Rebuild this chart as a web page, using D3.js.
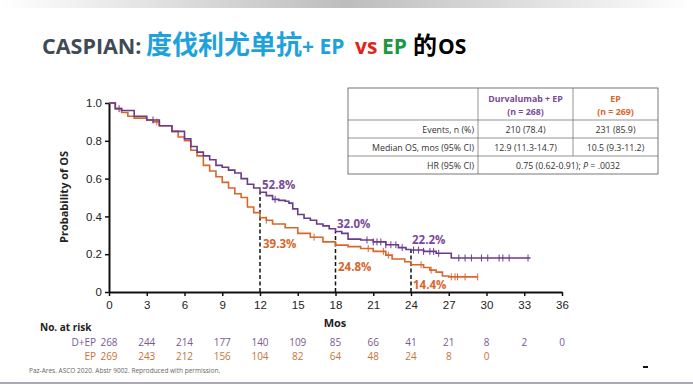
<!DOCTYPE html>
<html>
<head>
<meta charset="utf-8">
<script src="https://cdn.jsdelivr.net/npm/d3@7"></script>
<style>
  body { margin: 0; background: #fff; }
  svg { display: block; font-family: "Open Sans", "Noto Sans", sans-serif; }
</style>
</head>
<body>
<div id="chart"></div>
<script>
// KM curve points [month, survival]
const dEpCurve = [
  [0, 1.0], [0.5, 0.97], [1, 0.96], [2, 0.93], [3, 0.91], [4, 0.88], [5, 0.85],
  [6, 0.81], [6.5, 0.77], [7, 0.74], [7.5, 0.72], [8, 0.70], [8.5, 0.67], [9, 0.66],
  [9.5, 0.645], [10, 0.63], [10.5, 0.60], [11, 0.57], [11.5, 0.55], [12, 0.528],
  [12.5, 0.51], [13, 0.49], [13.5, 0.485], [14, 0.48], [14.3, 0.47], [14.6, 0.44],
  [15, 0.41], [15.5, 0.39], [16, 0.38], [16.5, 0.36], [17, 0.35], [17.5, 0.335],
  [18, 0.32], [18.5, 0.31], [19, 0.28], [20, 0.275], [21, 0.265], [22, 0.25],
  [23, 0.235], [23.6, 0.225], [24, 0.222], [25, 0.215], [26, 0.205], [27.2, 0.18], [33.5, 0.18]
];
const epCurve = [
  [0, 1.0], [0.5, 0.97], [1, 0.95], [1.5, 0.93], [2, 0.92], [3, 0.91], [3.5, 0.90],
  [4, 0.88], [5, 0.85], [5.5, 0.82], [6, 0.80], [6.5, 0.75], [7, 0.72], [7.5, 0.67],
  [8, 0.64], [8.5, 0.61], [9, 0.58], [9.5, 0.55], [10, 0.52], [10.5, 0.50], [11, 0.45],
  [11.5, 0.42], [12, 0.393], [12.5, 0.38], [13, 0.36], [14, 0.34], [15, 0.31],
  [16, 0.29], [17, 0.265], [18, 0.248], [19, 0.24], [20, 0.23], [21, 0.215],
  [22, 0.195], [22.5, 0.175], [23.5, 0.16], [24, 0.144], [25, 0.13], [25.5, 0.116],
  [26, 0.105], [26.5, 0.085], [27, 0.08], [29.3, 0.08]
];
const dEpCensored = [0.8, 3.5, 13.2, 20.5, 21, 21.3, 21.6, 22, 22.4, 22.8, 23.3, 24.2, 24.6, 25,
  25.5, 25.8, 26.2, 27.8, 28.3, 28.8, 29.6, 30.1, 31, 31.3, 31.8, 33.3];
const epCensored = [3.8, 12.5, 16.3, 20.6, 21.8, 22.2, 24.8, 25.6, 27.2, 27.5, 27.7, 28.3, 29.3];

const landmarkMonths = [12, 18, 24];
const dEpLandmark = ["52.8%", "32.0%", "22.2%"];
const epLandmark = ["39.3%", "24.8%", "14.4%"];

const xTicks = [0, 3, 6, 9, 12, 15, 18, 21, 24, 27, 30, 33, 36];
const yTicks = [0, 0.2, 0.4, 0.6, 0.8, 1.0];
const riskDEp = [268, 244, 214, 177, 140, 109, 85, 66, 41, 21, 8, 2, 0];
const riskEp = [269, 243, 212, 156, 104, 82, 64, 48, 24, 8, 0];

const tableRows = ["Events, n (%)", "Median OS, mos (95% CI)", "HR (95% CI)"];
const tableDEp = ["210 (78.4)", "12.9 (11.3-14.7)"];
const tableEp = ["231 (85.9)", "10.5 (9.3-11.2)"];

const purple = "#6a3a8c", orange = "#d9652b";
const W = 693, H = 390;

const svg = d3.select("#chart").append("svg").attr("width", W).attr("height", H);
const defs = svg.append("defs");
const grad = defs.append("linearGradient").attr("id", "topband");
grad.append("stop").attr("offset", "0%").attr("stop-color", "#fff");
grad.append("stop").attr("offset", "50%").attr("stop-color", "#bdbdbd");
grad.append("stop").attr("offset", "100%").attr("stop-color", "#fff");
svg.append("rect").attr("x", 0).attr("y", 0).attr("width", W).attr("height", 8).attr("fill", "url(#topband)");

// title, pieces placed to match the slide
const latin = "'Open Sans', sans-serif", cjk = "'Noto Sans CJK SC', sans-serif";
const titleParts = [
  { t: "CASPIAN:", x: 42, c: "#3e4b55", f: latin, s: 21.5 },
  { t: "度伐利尤单抗", x: 146, c: "#1ea2dc", f: cjk, s: 26 },
  { t: "+ EP", x: 302, c: "#1ea2dc", f: latin, s: 21 },
  { t: "vs", x: 355, c: "#e2231a", f: latin, s: 21 },
  { t: "EP", x: 382, c: "#1a9a3c", f: latin, s: 21 },
  { t: "的", x: 413, c: "#000", f: cjk, s: 24 },
  { t: "OS", x: 438, c: "#000", f: latin, s: 21 }
];
svg.append("g").selectAll("text").data(titleParts).join("text")
  .attr("x", d => d.x).attr("y", 54).attr("fill", d => d.c)
  .attr("font-family", d => d.f).attr("font-size", d => d.s).attr("font-weight", "bold")
  .text(d => d.t);

// scales
const x = d3.scaleLinear().domain([0, 36]).range([109, 562]);
const y = d3.scaleLinear().domain([0, 1]).range([292, 103]);

// axes
const gx = svg.append("g").attr("transform", `translate(0,${y(0)})`)
  .call(d3.axisBottom(x).tickValues(xTicks).tickSize(4).tickSizeOuter(0).tickFormat(d3.format("d")));
const gy = svg.append("g").attr("transform", `translate(${x(0)},0)`)
  .call(d3.axisLeft(y).tickValues(yTicks).tickSize(4).tickSizeOuter(0)
    .tickFormat(d => d === 0 ? "0" : d3.format(".1f")(d)));
[gx, gy].forEach(g => {
  g.select(".domain").attr("stroke", "#111").attr("stroke-width", 2);
  g.selectAll(".tick line").attr("stroke", "#111").attr("stroke-width", 1.5);
  g.selectAll(".tick text").attr("font-size", 11.5).attr("fill", "#222")
    .attr("font-family", "'Liberation Sans', Arial, sans-serif");
});
gx.selectAll(".tick text").attr("dy", "0.9em");

svg.append("text").attr("transform", `translate(68,197) rotate(-90)`)
  .attr("text-anchor", "middle").attr("font-size", 11).attr("font-weight", "bold")
  .attr("fill", "#222").text("Probability of OS");
svg.append("text").attr("x", 335).attr("y", 327).attr("text-anchor", "middle")
  .attr("font-size", 11).attr("font-weight", "bold").attr("fill", "#222").text("Mos");

// dashed landmark lines, up to the D+EP value
const dashG = svg.append("g");
landmarkMonths.forEach((m, i) => {
  const val = parseFloat(dEpLandmark[i]) / 100;
  dashG.append("line").attr("x1", x(m)).attr("x2", x(m)).attr("y1", y(0)).attr("y2", y(val))
    .attr("stroke", "#111").attr("stroke-width", 1.5).attr("stroke-dasharray", "4,2.5");
});

// curves
const line = d3.line().x(d => x(d[0])).y(d => y(d[1])).curve(d3.curveStepAfter);
function stepVal(curve, t) {
  let v = curve[0][1];
  curve.forEach(p => { if (p[0] <= t) v = p[1]; });
  return v;
}
function drawCurve(curve, censored, color) {
  svg.append("path").datum(curve).attr("d", line).attr("fill", "none")
    .attr("stroke", color).attr("stroke-width", 1.6);
  svg.append("g").selectAll("line").data(censored).join("line")
    .attr("x1", d => x(d)).attr("x2", d => x(d))
    .attr("y1", d => y(stepVal(curve, d)) - 3.5).attr("y2", d => y(stepVal(curve, d)) + 3.5)
    .attr("stroke", color).attr("stroke-width", 1);
}
drawCurve(epCurve, epCensored, orange);
drawCurve(dEpCurve, dEpCensored, purple);

// landmark labels
const dEpOffsets = [[2, -3], [1.5, -4], [1, -6]];
const epOffsets = [[3, 30], [2.5, 26], [2, 24]];
landmarkMonths.forEach((m, i) => {
  const vd = parseFloat(dEpLandmark[i]) / 100, ve = parseFloat(epLandmark[i]) / 100;
  svg.append("text").attr("x", x(m) + dEpOffsets[i][0]).attr("y", y(vd) + dEpOffsets[i][1])
    .attr("fill", "#7a4a99").attr("font-size", 11.5).attr("font-weight", "bold").text(dEpLandmark[i]);
  svg.append("text").attr("x", x(m) + epOffsets[i][0]).attr("y", y(ve) + epOffsets[i][1])
    .attr("fill", "#d9652b").attr("font-size", 11.5).attr("font-weight", "bold").text(epLandmark[i]);
});

// table
const tbl = svg.append("g").attr("font-size", 8.8).attr("font-family", "'Open Sans', sans-serif");
const tx = [348, 478, 573, 658], ty = [88, 120, 138, 156, 174];
tbl.append("rect").attr("x", tx[0]).attr("y", ty[0]).attr("width", tx[3] - tx[0]).attr("height", ty[4] - ty[0])
  .attr("fill", "#fff").attr("stroke", "#555").attr("stroke-width", 0.8);
ty.slice(1, 4).forEach(v => tbl.append("line").attr("x1", tx[0]).attr("x2", tx[3]).attr("y1", v).attr("y2", v)
  .attr("stroke", "#666").attr("stroke-width", 0.7));
tbl.append("line").attr("x1", tx[1]).attr("x2", tx[1]).attr("y1", ty[0]).attr("y2", ty[4]).attr("stroke", "#666").attr("stroke-width", 0.7);
tbl.append("line").attr("x1", tx[2]).attr("x2", tx[2]).attr("y1", ty[0]).attr("y2", ty[3]).attr("stroke", "#666").attr("stroke-width", 0.7);
const c1 = (tx[1] + tx[2]) / 2, c2 = (tx[2] + tx[3]) / 2;
tbl.append("text").attr("x", c1).attr("y", 102).attr("text-anchor", "middle").attr("font-weight", "bold").attr("fill", "#7a4a99").text("Durvalumab + EP");
tbl.append("text").attr("x", c1).attr("y", 115).attr("text-anchor", "middle").attr("font-weight", "bold").attr("fill", "#7a4a99").text("(n = 268)");
tbl.append("text").attr("x", c2).attr("y", 102).attr("text-anchor", "middle").attr("font-weight", "bold").attr("fill", "#d9652b").text("EP");
tbl.append("text").attr("x", c2).attr("y", 115).attr("text-anchor", "middle").attr("font-weight", "bold").attr("fill", "#d9652b").text("(n = 269)");
tableRows.forEach((r, i) => {
  const yy = ty[i + 1] + 12.5;
  tbl.append("text").attr("x", tx[1] - 4).attr("y", yy).attr("text-anchor", "end").attr("fill", "#333").text(r);
  if (i < 2) {
    tbl.append("text").attr("x", c1).attr("y", yy).attr("text-anchor", "middle").attr("fill", "#333").text(tableDEp[i]);
    tbl.append("text").attr("x", c2).attr("y", yy).attr("text-anchor", "middle").attr("fill", "#333").text(tableEp[i]);
  } else {
    const t = tbl.append("text").attr("x", (tx[1] + tx[3]) / 2).attr("y", yy).attr("text-anchor", "middle").attr("fill", "#333");
    t.append("tspan").text("0.75 (0.62-0.91); ");
    t.append("tspan").attr("font-style", "italic").text("P");
    t.append("tspan").text(" = .0032");
  }
});

// number at risk
const risk = svg.append("g").attr("font-size", 10).attr("font-family", "'Open Sans', sans-serif");
risk.append("text").attr("x", 40).attr("y", 331).attr("font-weight", "bold").attr("fill", "#222").text("No. at risk");
risk.append("text").attr("x", 96).attr("y", 346).attr("text-anchor", "end").attr("fill", "#7a5a92").text("D+EP");
risk.append("text").attr("x", 96).attr("y", 360).attr("text-anchor", "end").attr("fill", "#c8733a").text("EP");
risk.append("g").selectAll("text").data(riskDEp).join("text")
  .attr("x", (d, i) => x(xTicks[i])).attr("y", 346).attr("text-anchor", "middle").attr("fill", "#7a5a92").text(d => d);
risk.append("g").selectAll("text").data(riskEp).join("text")
  .attr("x", (d, i) => x(xTicks[i])).attr("y", 360).attr("text-anchor", "middle").attr("fill", "#c8733a").text(d => d);

// footnote & rule
svg.append("text").attr("x", 29).attr("y", 373).attr("font-size", 6.5).attr("fill", "#666")
  .attr("font-family", "'Open Sans', sans-serif").text("Paz-Ares. ASCO 2020. Abstr 9002. Reproduced with permission.");
svg.append("rect").attr("x", 643).attr("y", 366).attr("width", 5).attr("height", 2).attr("fill", "#111");
svg.append("line").attr("x1", 0).attr("x2", W).attr("y1", 383).attr("y2", 383).attr("stroke", "#5e5070").attr("stroke-width", 1.2);
</script>
</body>
</html>
